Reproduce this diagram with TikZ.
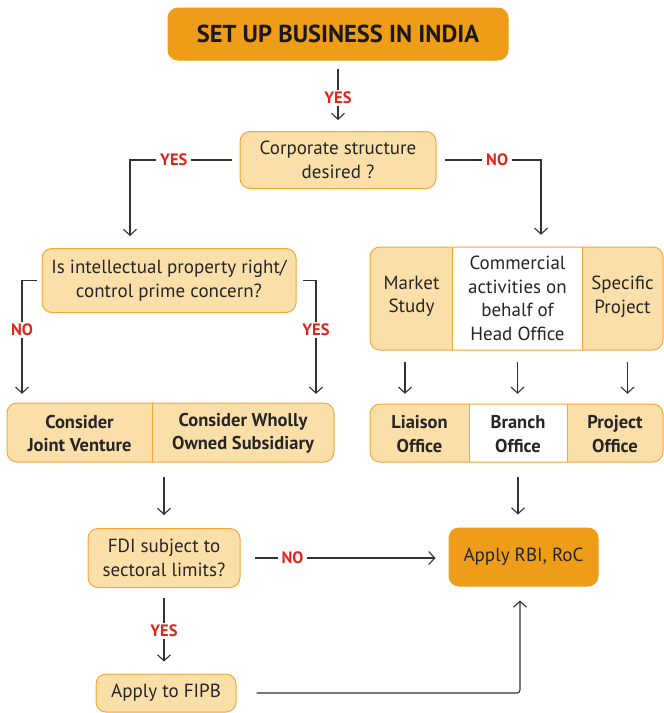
\documentclass[tikz,border=0pt]{standalone}
\usepackage{fontspec}
\setmainfont{PT Sans}
\usetikzlibrary{arrows.meta}

\definecolor{darkorange}{HTML}{EF9D18}
\definecolor{lightorange}{HTML}{FBDFA9}
\definecolor{edgeorange}{HTML}{F3A63A}
\definecolor{answerred}{HTML}{E1251B}
\definecolor{lineGrey}{HTML}{333333}

\tikzset{
  box/.style={draw=edgeorange, line width=1pt, fill=lightorange, rounded corners=10pt,
    align=center, inner sep=0pt, font=\fontsize{19}{23.5}\selectfont, text=black!85},
  mainbox/.style={box, draw=darkorange, fill=darkorange},
  cell/.style={inner sep=0pt, align=center, font=\fontsize{19}{23.5}\selectfont, text=black!85},
  boldcell/.style={cell, font=\bfseries\fontsize{18.5}{23.5}\selectfont},
  arr/.style={-{Straight Barb[length=6pt,width=13pt]}, draw=lineGrey, line width=1.1pt},
  ans/.style={fill=white, inner xsep=4pt, inner ysep=2pt, text=answerred,
    font=\bfseries\fontsize{16.5}{18}\selectfont}
}

\begin{document}
\begin{tikzpicture}[x=1pt, y=-1pt]
        \useasboundingbox (0,0) rectangle (664,713);

        % decision boxes
        \node[mainbox, minimum width=340pt, minimum height=52pt, text=black!90,
              font=\bfseries\fontsize{24.5}{28}\selectfont] (title) at (338,34) {SET UP BUSINESS IN INDIA};
        \node[box, minimum width=196pt, minimum height=57pt] (corp) at (338,160) {Corporate structure\\desired ?};
        \node[box, minimum width=254pt, minimum height=64pt] (ip) at (169,280.5) {Is intellectual property right/\\control prime concern?};
        \node[box, minimum width=152pt, minimum height=59pt] (fdi) at (164,558) {FDI subject to\\sectoral limits?};
        \node[box, minimum width=140pt, minimum height=38pt] (fipb) at (166,693) {Apply to FIPB};
        \node[mainbox, minimum width=149pt, minimum height=58pt] (rbi) at (523.5,557) {Apply RBI, RoC};

        % consider box
        \fill[lightorange, rounded corners=10pt] (7,403) rectangle (334,462);
        \node[boldcell, minimum width=145pt, minimum height=59pt] (jv) at (79.5,433.5) {Consider\\Joint Venture};
        \node[boldcell, minimum width=182pt, minimum height=59pt] (ws) at (243,433.5) {Consider Wholly\\Owned Subsidiary};
        \draw[edgeorange, line width=1pt, rounded corners=10pt] (7,403) rectangle (334,462);
        \draw[edgeorange, line width=1pt] (152,403) -- (152,462);

        % purpose box
        \fill[lightorange, rounded corners=10pt] (370,247) rectangle (663,350);
        \fill[white] (453,247) rectangle (582,350);
        \node[cell, minimum width=83pt, minimum height=103pt] (ms) at (411.5,296.5) {Market\\Study};
        \node[cell, minimum width=129pt, minimum height=103pt] (ca) at (517.5,298.5) {Commercial\\activities on\\behalf of\\Head Office};
        \node[cell, minimum width=81pt, minimum height=103pt] (sp) at (622.5,296.5) {Specific\\Project};
        \draw[edgeorange, line width=1pt, rounded corners=10pt] (370,247) rectangle (663,350);
        \draw[edgeorange, line width=1pt] (ca.north west) -- (ca.south west) (ca.north east) -- (ca.south east);

        % office box
        \fill[lightorange, rounded corners=10pt] (370,404) rectangle (663,462);
        \fill[white] (469,404) rectangle (567,462);
        \node[boldcell, minimum width=99pt, minimum height=58pt] (lo) at (419.5,434) {Liaison\\Office};
        \node[boldcell, minimum width=98pt, minimum height=58pt] (bo) at (518,434) {Branch\\Office};
        \node[boldcell, minimum width=96pt, minimum height=58pt] (po) at (615,434) {Project\\Office};
        \draw[edgeorange, line width=1pt, rounded corners=10pt] (370,404) rectangle (663,462);
        \draw[edgeorange, line width=1pt] (469,404) -- (469,462) (567,404) -- (567,462);

        % connectors
        \draw[arr, shorten <=8pt, shorten >=11pt] (title) -- (corp) node[ans, pos=0.53]{YES};
        \draw[arr, shorten <=8pt, shorten >=12pt] (corp.west) -| ([xshift=-39pt]ip.north) node[ans, pos=0.3]{YES};
        \draw[arr, shorten <=8pt, shorten >=12pt] (corp.east) -| ([xshift=23.5pt]ca.north) node[ans, pos=0.29]{NO};
        \draw[arr, shorten <=5pt, shorten >=10pt] (ip.west) -| ([xshift=-57.5pt]jv.north) node[ans, pos=0.7]{NO};
        \draw[arr, shorten <=6pt, shorten >=10pt] (ip.east) -| ([xshift=73pt]ws.north) node[ans, pos=0.7]{YES};

        \draw[arr, shorten <=12pt, shorten >=11pt] ([xshift=-6.5pt]ca.south -| ms.south) -- ([xshift=-6.5pt]ms.south |- lo.north);
        \draw[arr, shorten <=12pt, shorten >=11pt] (ca.south) -- (ca.south |- bo.north);
        \draw[arr, shorten <=12pt, shorten >=11pt] ([xshift=5pt]ca.south -| sp.south) -- ([xshift=5pt]sp.south |- po.north);

        \draw[arr, shorten <=14pt, shorten >=13pt] (fdi.north |- jv.south) -- (fdi.north);
        \draw[arr, shorten <=14pt, shorten >=13pt] (bo.south) -- (bo.south |- rbi.north);

        \draw[arr, shorten <=14pt, shorten >=13pt] (fdi.east) -- (fdi.east -| rbi.west) node[ans, pos=0.25]{NO};
        \draw[arr, shorten <=10pt, shorten >=12pt] (fdi.south) -- (fdi.south |- fipb.north) node[ans, pos=0.5]{YES};
        \draw[arr, rounded corners=3pt, shorten <=20pt, shorten >=14pt] (fipb.east) -| ([xshift=-3.5pt]rbi.south);

    \end{tikzpicture}
\end{document}
